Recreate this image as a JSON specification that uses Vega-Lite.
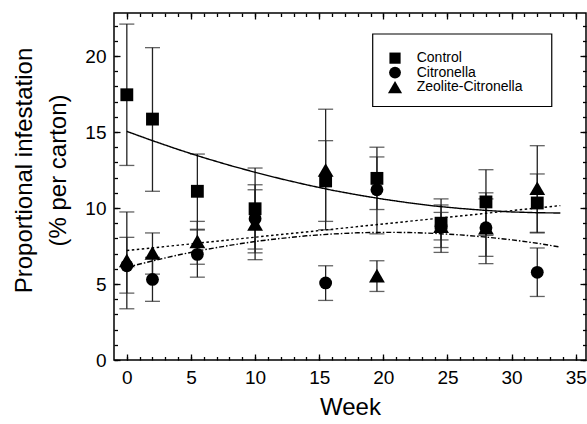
{
  "$schema": "https://vega.github.io/schema/vega-lite/v6.json",
  "width": 472,
  "height": 347,
  "autosize": {"type": "none"},
  "padding": {"left": 114, "top": 13, "right": 1, "bottom": 64},
  "background": "white",
  "config": {
    "view": {"stroke": "black", "strokeWidth": 1.5},
    "font": "Liberation Sans",
    "axis": {
      "grid": false,
      "domain": false,
      "tickColor": "black",
      "tickWidth": 1.3,
      "labelColor": "black",
      "titleColor": "black",
      "labelFont": "Liberation Sans",
      "titleFont": "Liberation Sans",
      "titleFontWeight": "normal"
    }
  },
  "datasets": {
    "pts": [
      {"group": "Control", "week": 0, "mean": 17.45, "lo": 12.8, "hi": 22.1},
      {"group": "Control", "week": 2, "mean": 15.85, "lo": 11.1, "hi": 20.55},
      {"group": "Control", "week": 5.5, "mean": 11.1, "lo": 8.6, "hi": 13.55},
      {"group": "Control", "week": 10, "mean": 9.95, "lo": 7.3, "hi": 12.63},
      {"group": "Control", "week": 15.5, "mean": 11.78, "lo": 9.12, "hi": 14.43},
      {"group": "Control", "week": 19.5, "mean": 11.95, "lo": 9.9, "hi": 14.0},
      {"group": "Control", "week": 24.5, "mean": 9.0, "lo": 7.4, "hi": 10.6},
      {"group": "Control", "week": 28, "mean": 10.4, "lo": 8.2, "hi": 12.52},
      {"group": "Control", "week": 32, "mean": 10.33, "lo": 8.4, "hi": 12.24},
      {"group": "Citronella", "week": 0, "mean": 6.2, "lo": 4.4, "hi": 8.07},
      {"group": "Citronella", "week": 2, "mean": 5.3, "lo": 3.86, "hi": 6.75},
      {"group": "Citronella", "week": 5.5, "mean": 6.95, "lo": 5.45, "hi": 8.55},
      {"group": "Citronella", "week": 10, "mean": 9.3, "lo": 7.05, "hi": 11.53},
      {"group": "Citronella", "week": 15.5, "mean": 5.07, "lo": 3.92, "hi": 6.2},
      {"group": "Citronella", "week": 19.5, "mean": 11.2, "lo": 8.3, "hi": 13.36},
      {"group": "Citronella", "week": 24.5, "mean": 8.8, "lo": 7.9, "hi": 9.71},
      {"group": "Citronella", "week": 28, "mean": 8.7, "lo": 6.34, "hi": 11.0},
      {"group": "Citronella", "week": 32, "mean": 5.77, "lo": 4.18, "hi": 7.37},
      {"group": "Zeolite-Citronella", "week": 0, "mean": 6.55, "lo": 3.37, "hi": 9.74},
      {"group": "Zeolite-Citronella", "week": 2, "mean": 7.05, "lo": 5.65, "hi": 8.36},
      {"group": "Zeolite-Citronella", "week": 5.5, "mean": 7.8, "lo": 6.3, "hi": 9.12},
      {"group": "Zeolite-Citronella", "week": 10, "mean": 8.95, "lo": 6.6, "hi": 11.2},
      {"group": "Zeolite-Citronella", "week": 15.5, "mean": 12.5, "lo": 8.57, "hi": 16.5},
      {"group": "Zeolite-Citronella", "week": 19.5, "mean": 5.55, "lo": 4.51, "hi": 6.53},
      {"group": "Zeolite-Citronella", "week": 24.5, "mean": 8.8, "lo": 7.08, "hi": 10.2},
      {"group": "Zeolite-Citronella", "week": 28, "mean": 8.7, "lo": 6.82, "hi": 10.6},
      {"group": "Zeolite-Citronella", "week": 32, "mean": 11.3, "lo": 8.36, "hi": 14.1}
    ],
    "fits": [
      {"model": "Control", "week": 0, "fit": 15.04},
      {"model": "Control", "week": 2, "fit": 14.43},
      {"model": "Control", "week": 4, "fit": 13.85},
      {"model": "Control", "week": 6, "fit": 13.31},
      {"model": "Control", "week": 8, "fit": 12.81},
      {"model": "Control", "week": 10, "fit": 12.35},
      {"model": "Control", "week": 12, "fit": 11.92},
      {"model": "Control", "week": 14, "fit": 11.53},
      {"model": "Control", "week": 16, "fit": 11.17},
      {"model": "Control", "week": 18, "fit": 10.86},
      {"model": "Control", "week": 20, "fit": 10.58},
      {"model": "Control", "week": 22, "fit": 10.34},
      {"model": "Control", "week": 24, "fit": 10.13},
      {"model": "Control", "week": 26, "fit": 9.97},
      {"model": "Control", "week": 28, "fit": 9.84},
      {"model": "Control", "week": 30, "fit": 9.74},
      {"model": "Control", "week": 32, "fit": 9.69},
      {"model": "Control", "week": 33.8, "fit": 9.67},
      {"model": "Citronella", "week": 0, "fit": 6.1},
      {"model": "Citronella", "week": 2, "fit": 6.52},
      {"model": "Citronella", "week": 4, "fit": 6.91},
      {"model": "Citronella", "week": 6, "fit": 7.25},
      {"model": "Citronella", "week": 8, "fit": 7.54},
      {"model": "Citronella", "week": 10, "fit": 7.8},
      {"model": "Citronella", "week": 12, "fit": 8.0},
      {"model": "Citronella", "week": 14, "fit": 8.17},
      {"model": "Citronella", "week": 16, "fit": 8.29},
      {"model": "Citronella", "week": 18, "fit": 8.37},
      {"model": "Citronella", "week": 20, "fit": 8.4},
      {"model": "Citronella", "week": 22, "fit": 8.39},
      {"model": "Citronella", "week": 24, "fit": 8.33},
      {"model": "Citronella", "week": 26, "fit": 8.23},
      {"model": "Citronella", "week": 28, "fit": 8.09},
      {"model": "Citronella", "week": 30, "fit": 7.91},
      {"model": "Citronella", "week": 32, "fit": 7.68},
      {"model": "Citronella", "week": 33.8, "fit": 7.43},
      {"model": "Zeolite-Citronella", "week": 0, "fit": 7.2},
      {"model": "Zeolite-Citronella", "week": 10, "fit": 8.08},
      {"model": "Zeolite-Citronella", "week": 20, "fit": 8.95},
      {"model": "Zeolite-Citronella", "week": 33.8, "fit": 10.16}
    ],
    "one": [{}]
  },
  "layer": [
    {
      "data": {"name": "pts"},
      "mark": {"type": "rule", "color": "#222222", "strokeWidth": 1.3},
      "encoding": {
        "x": {
          "field": "week", "type": "quantitative",
          "scale": {"domain": [-1, 35.8], "nice": false, "zero": false},
          "axis": {"orient": "bottom", "values": [0,1,2,3,4,5,6,7,8,9,10,11,12,13,14,15,16,17,18,19,20,21,22,23,24,25,26,27,28,29,30,31,32,33,34,35], "tickSize": -3.5, "labels": false, "title": null}
        },
        "y": {
          "field": "lo", "type": "quantitative",
          "scale": {"domain": [0, 22.83], "nice": false},
          "axis": {"orient": "left", "values": [0,1,2,3,4,5,6,7,8,9,10,11,12,13,14,15,16,17,18,19,20,21,22], "tickSize": -3.5, "labels": false, "title": null}
        },
        "y2": {"field": "hi"}
      }
    },
    {
      "data": {"name": "pts"},
      "mark": {"type": "tick", "orient": "horizontal", "color": "#222222", "size": 15, "thickness": 1.3},
      "encoding": {
        "x": {
          "field": "week", "type": "quantitative",
          "scale": {"domain": [-1, 35.8], "nice": false, "zero": false},
          "axis": {"orient": "top", "values": [0,1,2,3,4,5,6,7,8,9,10,11,12,13,14,15,16,17,18,19,20,21,22,23,24,25,26,27,28,29,30,31,32,33,34,35], "tickSize": -3.5, "labels": false, "title": null}
        },
        "y": {
          "field": "lo", "type": "quantitative",
          "scale": {"domain": [0, 22.83], "nice": false},
          "axis": {"orient": "right", "values": [0,1,2,3,4,5,6,7,8,9,10,11,12,13,14,15,16,17,18,19,20,21,22], "tickSize": -3.5, "labels": false, "title": null}
        }
      }
    },
    {
      "data": {"name": "pts"},
      "mark": {"type": "tick", "orient": "horizontal", "color": "#222222", "size": 15, "thickness": 1.3},
      "encoding": {
        "x": {"field": "week", "type": "quantitative", "scale": {"domain": [-1, 35.8], "nice": false, "zero": false}, "axis": null},
        "y": {"field": "hi", "type": "quantitative", "scale": {"domain": [0, 22.83], "nice": false}, "axis": null}
      }
    },
    {
      "data": {"name": "fits"},
      "mark": {"type": "line", "color": "black", "strokeWidth": 1.4},
      "encoding": {
        "x": {
          "field": "week", "type": "quantitative",
          "scale": {"domain": [-1, 35.8], "nice": false, "zero": false},
          "axis": {"orient": "top", "values": [0,5,10,15,20,25,30,35], "tickSize": -6, "labels": false, "title": null}
        },
        "y": {
          "field": "fit", "type": "quantitative",
          "scale": {"domain": [0, 22.83], "nice": false},
          "axis": {"orient": "right", "values": [0,5,10,15,20], "tickSize": -6, "labels": false, "title": null}
        },
        "strokeDash": {
          "field": "model", "type": "nominal",
          "scale": {"domain": ["Control", "Citronella", "Zeolite-Citronella"], "range": [[1, 0], [5, 2, 1.5, 2], [2.5, 2.5]]},
          "legend": null
        }
      }
    },
    {
      "data": {"name": "pts"},
      "transform": [{"filter": "datum.group != 'Zeolite-Citronella'"}],
      "mark": {"type": "point", "filled": true, "color": "black", "opacity": 1, "size": 165},
      "encoding": {
        "x": {
          "field": "week", "type": "quantitative",
          "scale": {"domain": [-1, 35.8], "nice": false, "zero": false},
          "axis": {"orient": "bottom", "values": [0,5,10,15,20,25,30,35], "tickSize": -6, "labelPadding": 14, "labelFontSize": 19, "title": "Week", "titleFontSize": 24, "titleY": 54, "titleBaseline": "alphabetic"}
        },
        "y": {
          "field": "mean", "type": "quantitative",
          "scale": {"domain": [0, 22.83], "nice": false},
          "axis": {"orient": "left", "values": [0,5,10,15,20], "tickSize": -6, "labelPadding": 14, "labelFontSize": 19, "title": ["Proportional infestation", "(% per carton)"], "titleFontSize": 24, "titleLineHeight": 34, "titleX": -102, "titleY": 157, "titleBaseline": "top", "titleAlign": "center", "titleAngle": -90}
        },
        "shape": {
          "field": "group", "type": "nominal",
          "scale": {"domain": ["Control", "Citronella", "Zeolite-Citronella"], "range": ["square", "circle", "triangle-up"]},
          "legend": null
        }
      }
    },
    {
      "data": {"name": "pts"},
      "transform": [{"filter": "datum.group == 'Zeolite-Citronella'"}],
      "mark": {"type": "point", "filled": true, "color": "black", "opacity": 1, "size": 250, "shape": "triangle-up"},
      "encoding": {
        "x": {"field": "week", "type": "quantitative", "scale": {"domain": [-1, 35.8], "nice": false, "zero": false}, "axis": null},
        "y": {"field": "mean", "type": "quantitative", "scale": {"domain": [0, 22.83], "nice": false}, "axis": null}
      }
    },
    {
      "data": {"name": "one"},
      "mark": {"type": "rect", "fill": "white", "stroke": "black", "strokeWidth": 1.2},
      "encoding": {
        "x": {"datum": 19.17, "type": "quantitative", "axis": null},
        "x2": {"datum": 33.13},
        "y": {"datum": 21.45, "type": "quantitative", "axis": null},
        "y2": {"datum": 16.68}
      }
    },
    {
      "data": {"name": "one"},
      "mark": {"type": "point", "filled": true, "color": "black", "opacity": 1, "shape": "square", "size": 125},
      "encoding": {"x": {"datum": 20.91, "type": "quantitative", "axis": null}, "y": {"datum": 19.86, "type": "quantitative", "axis": null}}
    },
    {
      "data": {"name": "one"},
      "mark": {"type": "point", "filled": true, "color": "black", "opacity": 1, "shape": "circle", "size": 140},
      "encoding": {"x": {"datum": 20.91, "type": "quantitative", "axis": null}, "y": {"datum": 18.91, "type": "quantitative", "axis": null}}
    },
    {
      "data": {"name": "one"},
      "mark": {"type": "point", "filled": true, "color": "black", "opacity": 1, "shape": "triangle-up", "size": 200},
      "encoding": {"x": {"datum": 20.91, "type": "quantitative", "axis": null}, "y": {"datum": 17.95, "type": "quantitative", "axis": null}}
    },
    {
      "data": {"name": "one"},
      "mark": {"type": "text", "text": "Control", "align": "left", "baseline": "middle", "fontSize": 14, "font": "Liberation Sans", "color": "black"},
      "encoding": {"x": {"datum": 22.6, "type": "quantitative", "axis": null}, "y": {"datum": 19.86, "type": "quantitative", "axis": null}}
    },
    {
      "data": {"name": "one"},
      "mark": {"type": "text", "text": "Citronella", "align": "left", "baseline": "middle", "fontSize": 14, "font": "Liberation Sans", "color": "black"},
      "encoding": {"x": {"datum": 22.6, "type": "quantitative", "axis": null}, "y": {"datum": 18.91, "type": "quantitative", "axis": null}}
    },
    {
      "data": {"name": "one"},
      "mark": {"type": "text", "text": "Zeolite-Citronella", "align": "left", "baseline": "middle", "fontSize": 14, "font": "Liberation Sans", "color": "black"},
      "encoding": {"x": {"datum": 22.6, "type": "quantitative", "axis": null}, "y": {"datum": 17.95, "type": "quantitative", "axis": null}}
    }
  ],
  "resolve": {"axis": {"x": "independent", "y": "independent"}}
}
